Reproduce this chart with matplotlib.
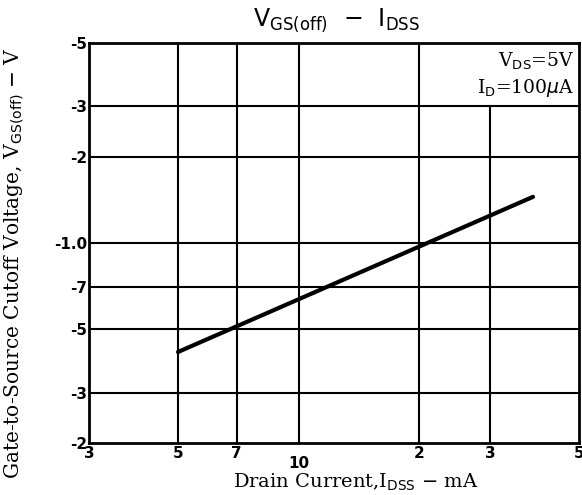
import matplotlib
matplotlib.use("Agg")
import matplotlib.pyplot as plt

# Data
idss_mA = [5.0, 38.4]
vgs_off_abs = [0.416, 1.45]   # magnitudes of V_GS(off) (negative volts)

x_ticks = [3, 5, 7, 10, 20, 30, 50]
x_tick_labels = ["3", "5", "7", "10", "2", "3", "5"]
y_ticks = [0.2, 0.3, 0.5, 0.7, 1.0, 2, 3, 5]
y_tick_labels = ["-2", "-3", "-5", "-7", "-1.0", "-2", "-3", "-5"]
v_grid = [5, 7, 10, 20]
h_grid = [0.3, 0.5, 0.7, 1.0, 2, 3]

fig = plt.figure(figsize=(5.82, 4.95), dpi=100)
ax = fig.add_axes([89/582, 1 - 443/495, (579 - 89)/582, (443 - 43)/495])
ax.set_xscale("log")
ax.set_yscale("log")
ax.set_xlim(3, 50)
ax.set_ylim(0.2, 5)

for xv in v_grid:
    ax.plot([xv, xv], [0.2, 5], color="black", lw=1.5, zorder=1)
ax.plot([30, 30], [0.2, 3], color="black", lw=1.5, zorder=1)
for yv in h_grid:
    ax.plot([3, 50], [yv, yv], color="black", lw=1.5, zorder=1)

ax.plot(idss_mA, vgs_off_abs, color="black", lw=3, solid_capstyle="round", zorder=3)

ax.xaxis.set_major_locator(matplotlib.ticker.FixedLocator(x_ticks))
ax.xaxis.set_major_formatter(matplotlib.ticker.FixedFormatter(x_tick_labels))
ax.xaxis.set_minor_locator(matplotlib.ticker.NullLocator())
ax.yaxis.set_major_locator(matplotlib.ticker.FixedLocator(y_ticks))
ax.yaxis.set_major_formatter(matplotlib.ticker.FixedFormatter(y_tick_labels))
ax.yaxis.set_minor_locator(matplotlib.ticker.NullLocator())
ax.tick_params(axis="both", length=0, labelsize=11)
ax.tick_params(axis="x", pad=2)
ax.tick_params(axis="y", pad=1)
for lab in ax.get_xticklabels() + ax.get_yticklabels():
    lab.set_fontweight("bold")
ax.xaxis.get_major_ticks()[3].set_pad(9)

for sp in ax.spines.values():
    sp.set_linewidth(2)
    sp.set_color("black")

ax.set_xlabel(r"Drain Current,I$_{\mathrm{DSS}}$ $-$ mA", family="DejaVu Serif",
              fontsize=14)
ax.xaxis.set_label_coords(0.545, -0.072)
ax.set_ylabel(r"Gate-to-Source Cutoff Voltage, V$_{\mathrm{GS(off)}}$ $-$ V",
              family="DejaVu Serif", fontsize=14.5)
ax.yaxis.set_label_coords(-0.128, 0.45)

fig.text(336/582, 1 - 20/495, r"V$_{\mathsf{GS(off)}}$  $-$  I$_{\mathsf{DSS}}$",
         ha="center", va="center", fontsize=17, family="DejaVu Sans")

ax.text(0.99, 0.98, r"V$_{\mathrm{DS}}$=5V", transform=ax.transAxes,
        ha="right", va="top", family="DejaVu Serif", fontsize=13.5)
ax.text(0.99, 0.915, r"I$_{\mathrm{D}}$=100$\mu$A", transform=ax.transAxes,
        ha="right", va="top", family="DejaVu Serif", fontsize=13.5)

fig.savefig("out.png", dpi=100)
